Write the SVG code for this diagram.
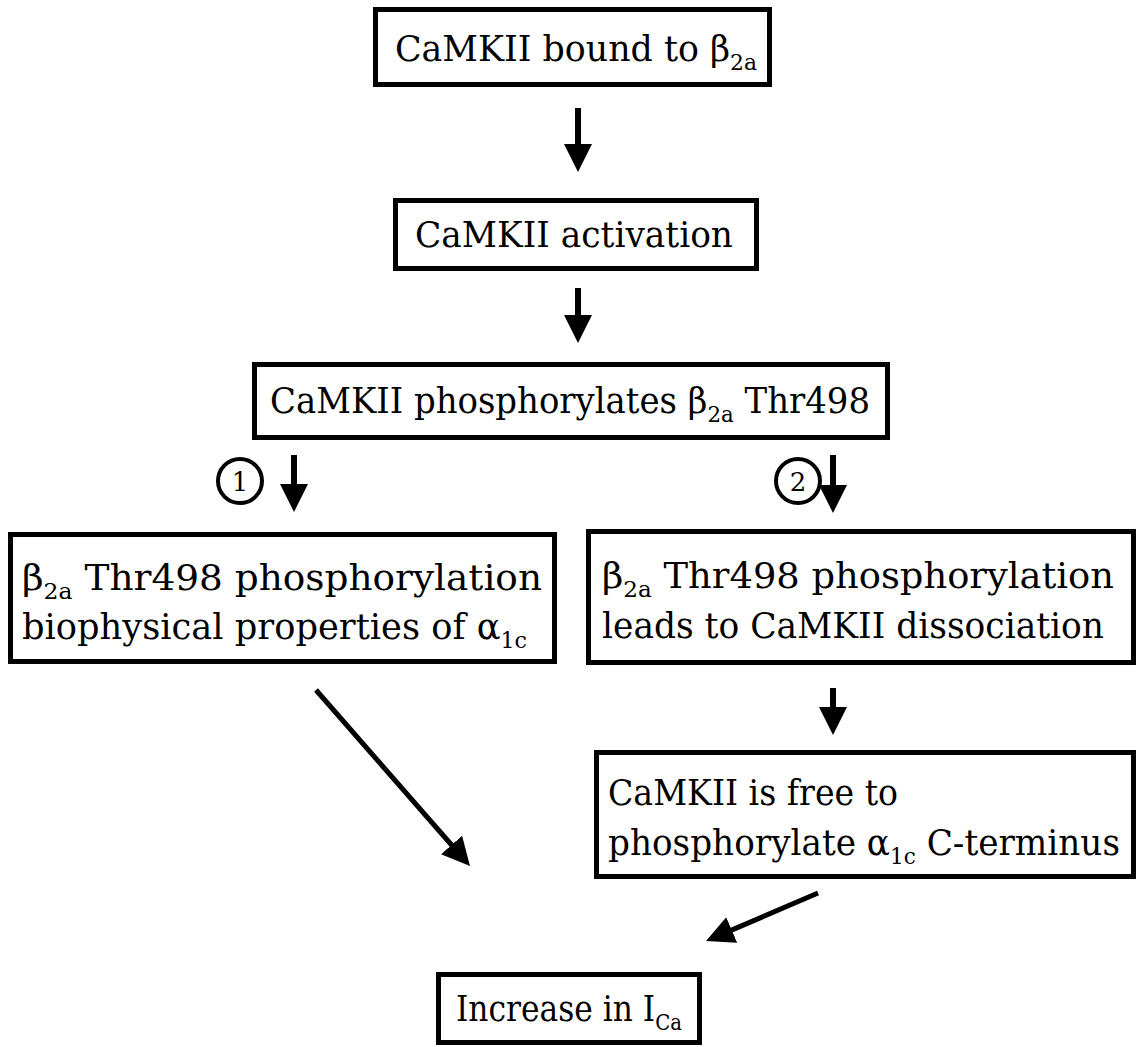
<svg xmlns="http://www.w3.org/2000/svg" width="1139" height="1047" viewBox="0 0 1139 1047">
<style>
.box{fill:#fff;stroke:#000;stroke-width:5}
.t{font-family:'DejaVu Serif','Liberation Serif',serif;font-size:35px;fill:#000}
.s{font-size:22px}
.num{font-family:'DejaVu Serif','Liberation Serif',serif;font-size:26px;fill:#000;text-anchor:middle}
.circ{fill:#fff;stroke:#000;stroke-width:4}
.ln{stroke:#000;stroke-width:6;fill:none}
.dg{stroke:#000;stroke-width:5;fill:none}
</style>
<defs>
<marker id="ah" viewBox="0 0 28 28" markerWidth="28" markerHeight="28" markerUnits="userSpaceOnUse" refX="18" refY="14" orient="auto">
<path d="M0,0 L28,14 L0,28 z" fill="#000"/>
</marker>
</defs>
<rect width="1139" height="1047" fill="#fff"/>
<g id="connectors">
<line class="ln" x1="578" y1="108" x2="578" y2="162" marker-end="url(#ah)"/>
<line class="ln" x1="578" y1="288" x2="578" y2="333" marker-end="url(#ah)"/>
<line class="ln" x1="294" y1="455" x2="294" y2="502" marker-end="url(#ah)"/>
<line class="ln" x1="833" y1="455" x2="833" y2="503" marker-end="url(#ah)"/>
<line class="ln" x1="833" y1="688" x2="833" y2="725" marker-end="url(#ah)"/>
<line class="dg" x1="316" y1="690" x2="463.4" y2="858.5" marker-end="url(#ah)"/>
<line class="dg" x1="818" y1="893" x2="715.2" y2="937.1" marker-end="url(#ah)"/>
</g>
<g id="n1">
<rect class="box" x="375.5" y="9.5" width="394" height="75"/>
<text class="t" x="395" y="61" textLength="362" lengthAdjust="spacingAndGlyphs">CaMKII bound to β<tspan class="s" dy="9">2a</tspan></text>
</g>
<g id="n2">
<rect class="box" x="395.5" y="200.5" width="361" height="68"/>
<text class="t" x="415" y="247" textLength="318" lengthAdjust="spacingAndGlyphs">CaMKII activation</text>
</g>
<g id="n3">
<rect class="box" x="254.5" y="364.5" width="633" height="73"/>
<text class="t" x="270" y="413" textLength="600" lengthAdjust="spacingAndGlyphs">CaMKII phosphorylates β<tspan class="s" dy="9">2a</tspan><tspan dy="-9"> Thr498</tspan></text>
</g>
<g id="c1">
<circle class="circ" cx="240" cy="481" r="22"/>
<text class="num" x="240" y="491">1</text>
</g>
<g id="c2">
<circle class="circ" cx="798" cy="481" r="22"/>
<text class="num" x="798" y="491">2</text>
</g>
<g id="n4">
<rect class="box" x="10.5" y="534.5" width="544" height="127"/>
<text class="t" x="22" y="590" textLength="520" lengthAdjust="spacingAndGlyphs">β<tspan class="s" dy="9">2a</tspan><tspan dy="-9"> Thr498 phosphorylation</tspan></text>
<text class="t" x="22" y="639" textLength="505" lengthAdjust="spacingAndGlyphs">biophysical properties of α<tspan class="s" dy="9">1c</tspan></text>
</g>
<g id="n5">
<rect class="box" x="588.5" y="531.5" width="545" height="131"/>
<text class="t" x="602" y="588" textLength="512" lengthAdjust="spacingAndGlyphs">β<tspan class="s" dy="9">2a</tspan><tspan dy="-9"> Thr498 phosphorylation</tspan></text>
<text class="t" x="602" y="638" textLength="502" lengthAdjust="spacingAndGlyphs">leads to CaMKII dissociation</text>
</g>
<g id="n6">
<rect class="box" x="596.5" y="752.5" width="537" height="124"/>
<text class="t" x="608" y="805" textLength="290" lengthAdjust="spacingAndGlyphs">CaMKII is free to</text>
<text class="t" x="608" y="855" textLength="512" lengthAdjust="spacingAndGlyphs">phosphorylate α<tspan class="s" dy="9">1c</tspan><tspan dy="-9"> C-terminus</tspan></text>
</g>
<g id="n7">
<rect class="box" x="438.5" y="974.5" width="261" height="68"/>
<text class="t" x="456" y="1021" textLength="226" lengthAdjust="spacingAndGlyphs">Increase in I<tspan class="s" dy="9">Ca</tspan></text>
</g>
</svg>
